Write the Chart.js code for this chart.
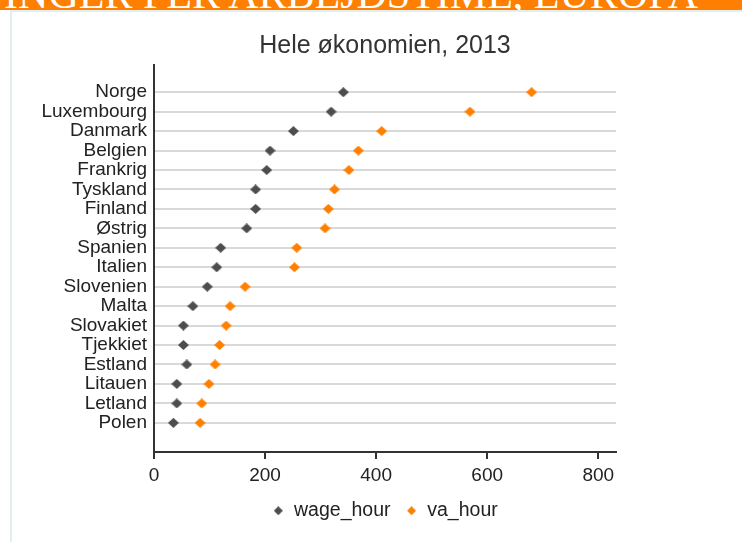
<!DOCTYPE html>
<html>
<head>
<meta charset="utf-8">
<script src="https://cdn.jsdelivr.net/npm/chart.js@4/dist/chart.umd.min.js"></script>
<style>
  html, body { margin: 0; padding: 0; width: 742px; height: 542px; overflow: hidden; background: #ffffff; }
  #banner { position: absolute; left: 0; top: 0; width: 742px; height: 10px; background: #ff8000; overflow: hidden; z-index: 3; }
  #banner span { position: absolute; right: 44px; top: -27px; font-family: "Liberation Serif", serif; font-size: 42px; line-height: 42px; color: #ffffff; white-space: nowrap; }
  #panelTop { position: absolute; left: 10px; top: 10px; width: 732px; height: 2px; background: #e3eeee; z-index: 1; }
  #panelLeft { position: absolute; left: 10px; top: 10px; width: 2px; height: 532px; background: #e3eeee; z-index: 1; }
  #wrap { position: absolute; left: 0; top: 0; width: 742px; height: 542px; z-index: 2; }
</style>
</head>
<body>
<div id="banner"><span>LØNNINGER PER ARBEJDSTIME, EUROPA</span></div>
<div id="panelTop"></div>
<div id="panelLeft"></div>
<div id="wrap"><canvas id="c"></canvas></div>
<script>
const countries = ['Norge','Luxembourg','Danmark','Belgien','Frankrig','Tyskland','Finland','Østrig','Spanien','Italien','Slovenien','Malta','Slovakiet','Tjekkiet','Estland','Litauen','Letland','Polen'];
const wageHour = [341,319,251,209,203,183,183,167,120,113,96,70,53,53,59,41,41,35];
const vaHour = [680,569,410,368,351,325,314,308,257,253,164,137,130,118,110,99,86,83];
const xTicks = [0,200,400,600,800];
const seriesNames = ['wage_hour','va_hour'];
const seriesColors = ['#4d4d4d', '#ff8000'];
const titleText = 'Hele økonomien, 2013';

const FONT = '"Liberation Sans", Arial, sans-serif';

// diamond marker images (styles only)
function diamond(color, w, h) {
  const cv = document.createElement('canvas');
  cv.width = w; cv.height = h;
  const g = cv.getContext('2d');
  g.fillStyle = color;
  g.beginPath();
  g.moveTo(w / 2, 0);
  g.lineTo(w, h / 2);
  g.lineTo(w / 2, h);
  g.lineTo(0, h / 2);
  g.closePath();
  g.fill();
  return cv;
}
const pointImgs = seriesColors.map(c => diamond(c, 11, 10));
const legendImgs = seriesColors.map(c => diamond(c, 9, 9));

new Chart(document.getElementById('c'), {
  type: 'scatter',
  data: {
    datasets: [
      {
        label: seriesNames[0],
        data: wageHour.map((v, i) => ({x: v, y: i})),
        pointStyle: pointImgs[0],
        pointRadius: 5,
        borderWidth: 0,
        backgroundColor: seriesColors[0],
        borderColor: seriesColors[0]
      },
      {
        label: seriesNames[1],
        data: vaHour.map((v, i) => ({x: v, y: i})),
        pointStyle: pointImgs[1],
        pointRadius: 5,
        borderWidth: 0,
        backgroundColor: seriesColors[1],
        borderColor: seriesColors[1]
      }
    ]
  },
  options: {
    responsive: true,
    maintainAspectRatio: false,
    animation: false,
    layout: { padding: { left: 0, right: 126, top: 0, bottom: 11.5 } },
    plugins: {
      tooltip: { enabled: false },
      title: {
        display: true,
        text: titleText,
        fullSize: false,
        color: '#333333',
        font: { family: FONT, size: 25, weight: 'normal' },
        padding: { top: 31, bottom: 4 }
      },
      legend: {
        display: true,
        position: 'bottom',
        fullSize: false,
        labels: {
          usePointStyle: true,
          pointStyleWidth: 12,
          boxHeight: 8,
          padding: 15,
          color: '#222222',
          font: { family: FONT, size: 19.5 },
          generateLabels: (chart) => {
            const items = Chart.defaults.plugins.legend.labels.generateLabels(chart);
            items.forEach((it, i) => { it.pointStyle = legendImgs[i]; });
            return items;
          }
        }
      }
    },
    scales: {
      x: {
        type: 'linear',
        min: 0,
        max: 832,
        afterBuildTicks: (s) => { s.ticks = xTicks.map(v => ({value: v})); },
        afterFit: (s) => { s.height = 34; },
        grid: { drawOnChartArea: false, drawTicks: true, tickLength: 7, color: '#333333', lineWidth: 2 },
        border: { display: true, color: '#333333', width: 2 },
        ticks: { color: '#222222', padding: 5, font: { family: FONT, size: 19 }, maxRotation: 0, autoSkip: false }
      },
      y: {
        type: 'linear',
        reverse: true,
        min: -1.4,
        max: 18.5,
        afterBuildTicks: (s) => { s.ticks = countries.map((c, i) => ({value: i})); },
        afterFit: (s) => { s.width = 154; },
        grid: { drawOnChartArea: true, drawTicks: false, color: '#d9d9d9', lineWidth: 2 },
        border: { display: true, color: '#333333', width: 2 },
        ticks: {
          color: '#222222',
          padding: 7,
          autoSkip: false,
          font: { family: FONT, size: 19 },
          callback: (v) => countries[v]
        }
      }
    }
  }
});
</script>
</body>
</html>
